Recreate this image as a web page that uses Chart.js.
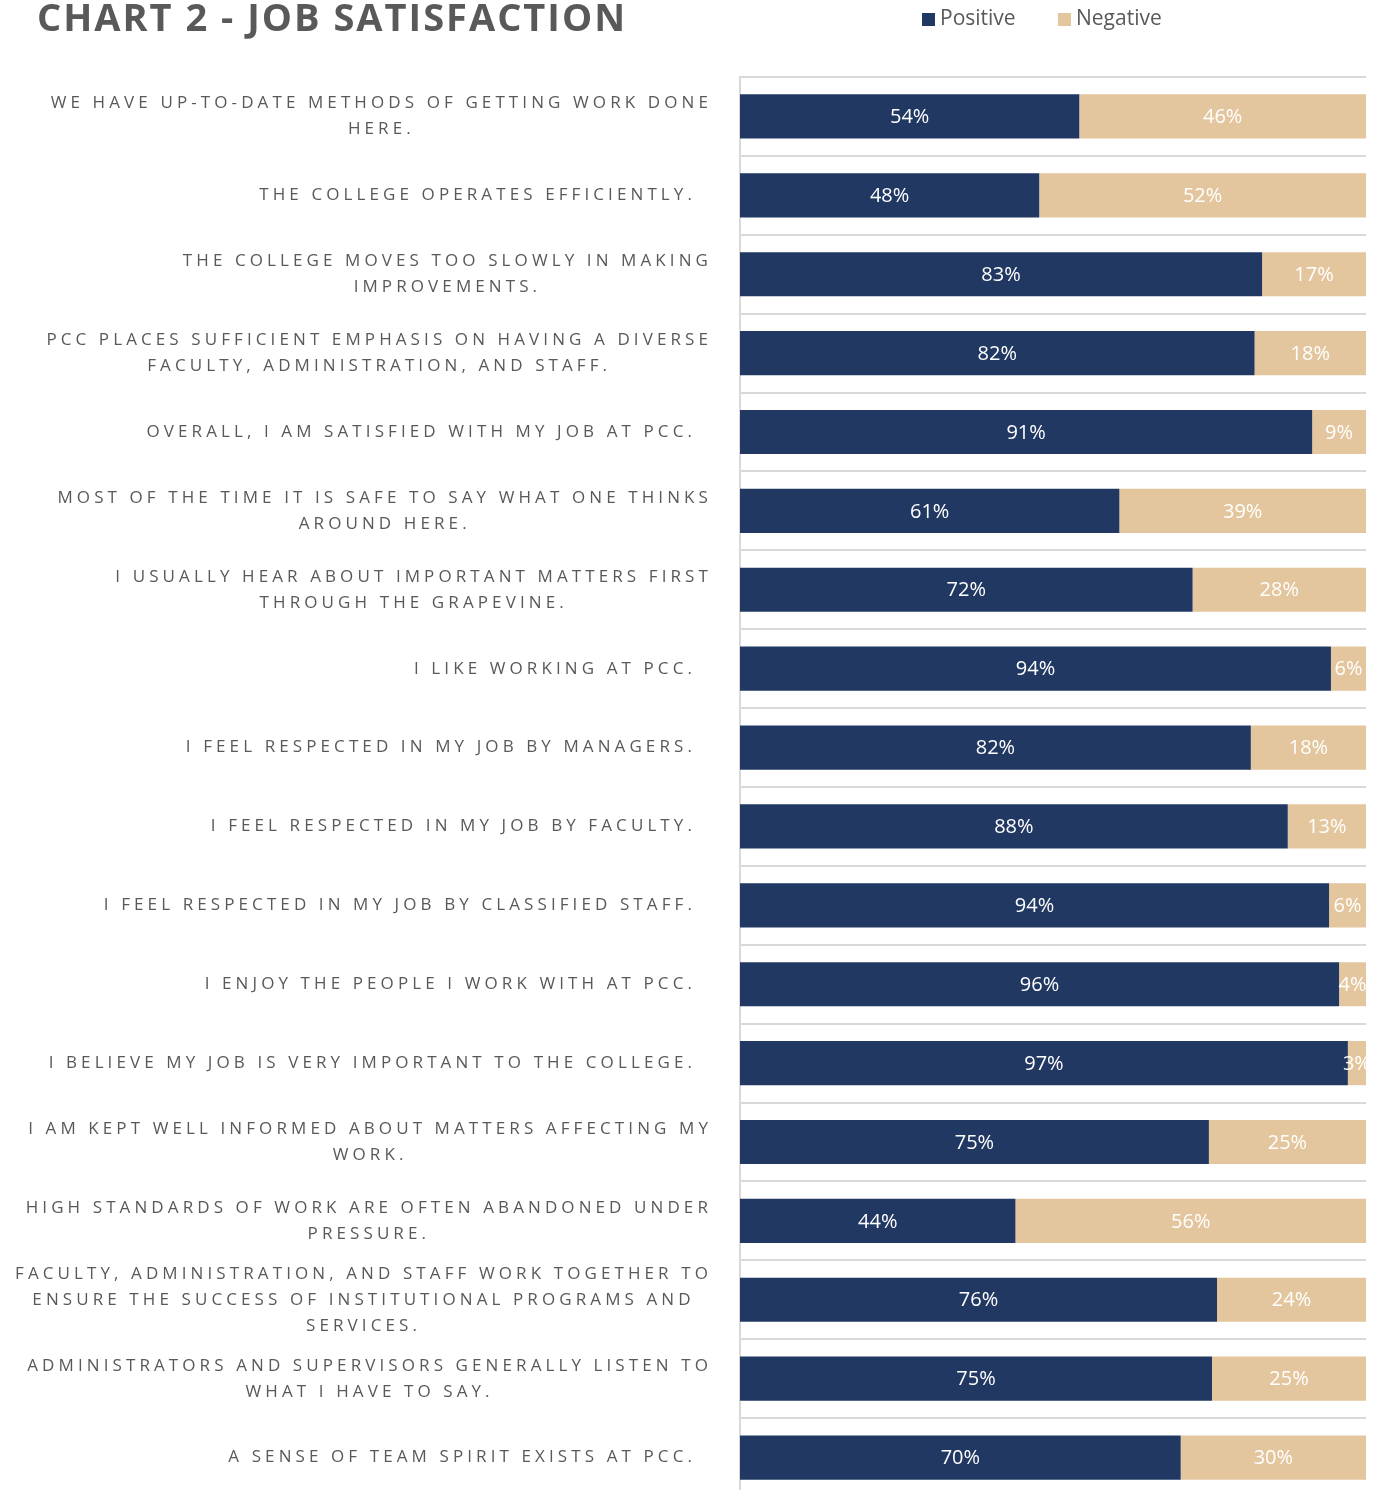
<!DOCTYPE html>
<html lang="en">
<head>
    <meta charset="UTF-8">
    <title>Chart 2 - Job Satisfaction</title>
    <script src="https://cdn.jsdelivr.net/npm/chart.js@4.4.1/dist/chart.umd.min.js"></script>
    <style>
        body { margin: 0; background: #ffffff; overflow: hidden; }
        #wrap { position: relative; width: 1374px; height: 1500px; }
    </style>
</head>
<body>
<div id="wrap">
    <canvas id="myChart"></canvas>
</div>
<script>
    var chartTitle = 'CHART 2 - JOB SATISFACTION';
    var seriesNames = ['Positive', 'Negative'];
    var statements = [
        ['WE HAVE UP-TO-DATE METHODS OF GETTING WORK DONE', 'HERE.'],
        ['THE COLLEGE OPERATES EFFICIENTLY.'],
        ['THE COLLEGE MOVES TOO SLOWLY IN MAKING', 'IMPROVEMENTS.'],
        ['PCC PLACES SUFFICIENT EMPHASIS ON HAVING A DIVERSE', 'FACULTY, ADMINISTRATION, AND STAFF.'],
        ['OVERALL, I AM SATISFIED WITH MY JOB AT PCC.'],
        ['MOST OF THE TIME IT IS SAFE TO SAY WHAT ONE THINKS', 'AROUND HERE.'],
        ['I USUALLY HEAR ABOUT IMPORTANT MATTERS FIRST', 'THROUGH THE GRAPEVINE.'],
        ['I LIKE WORKING AT PCC.'],
        ['I FEEL RESPECTED IN MY JOB BY MANAGERS.'],
        ['I FEEL RESPECTED IN MY JOB BY FACULTY.'],
        ['I FEEL RESPECTED IN MY JOB BY CLASSIFIED STAFF.'],
        ['I ENJOY THE PEOPLE I WORK WITH AT PCC.'],
        ['I BELIEVE MY JOB IS VERY IMPORTANT TO THE COLLEGE.'],
        ['I AM KEPT WELL INFORMED ABOUT MATTERS AFFECTING MY', 'WORK.'],
        ['HIGH STANDARDS OF WORK ARE OFTEN ABANDONED UNDER', 'PRESSURE.'],
        ['FACULTY, ADMINISTRATION, AND STAFF WORK TOGETHER TO', 'ENSURE THE SUCCESS OF INSTITUTIONAL PROGRAMS AND', 'SERVICES.'],
        ['ADMINISTRATORS AND SUPERVISORS GENERALLY LISTEN TO', 'WHAT I HAVE TO SAY.'],
        ['A SENSE OF TEAM SPIRIT EXISTS AT PCC.']
    ];
    var positive = [54.2, 47.8, 83.4, 82.2, 91.4, 60.6, 72.3, 94.4, 81.6, 87.5, 94.1, 95.7, 97.1, 74.9, 44, 76.2, 75.4, 70.4];
    var negative = [45.8, 52.2, 16.6, 17.8, 8.6, 39.4, 27.7, 5.6, 18.4, 12.5, 5.9, 4.3, 2.9, 25.1, 56, 23.8, 24.6, 29.6];

    var navy = '#213862';
    var tan = '#E3C69D';
    var grey = '#595959';

    // titre, legende, etiquettes des questions et valeurs dans les barres
    var decorPlugin = {
        id: 'decor',
        afterDraw: function (chart) {
            var ctx = chart.ctx;
            var area = chart.chartArea;
            var yScale = chart.scales.y;

            // titre
            ctx.save();
            ctx.fillStyle = grey;
            ctx.font = 'bold 38px "Open Sans"';
            ctx.letterSpacing = '2px';
            ctx.textBaseline = 'alphabetic';
            ctx.textAlign = 'left';
            ctx.fillText(chartTitle, 37, 31);
            ctx.restore();

            // legende
            ctx.save();
            ctx.font = '21px "Open Sans"';
            ctx.textBaseline = 'middle';
            ctx.textAlign = 'left';
            var lx = [922, 1058];
            [navy, tan].forEach(function (c, k) {
                ctx.fillStyle = c;
                ctx.fillRect(lx[k], 13, 13, 13);
                ctx.fillStyle = grey;
                ctx.fillText(seriesNames[k], lx[k] + 18, 19);
            });
            ctx.restore();

            // questions
            ctx.save();
            ctx.font = '17px "Open Sans"';
            ctx.letterSpacing = '4.1px';
            ctx.fillStyle = grey;
            ctx.textBaseline = 'middle';
            ctx.textAlign = 'center';
            statements.forEach(function (lines, i) {
                var yc = yScale.getPixelForValue(i);
                var widths = lines.map(function (l) { return ctx.measureText(l).width; });
                var w = Math.max.apply(null, widths);
                var right = lines.length > 1 ? 712 : 696;
                var cx = right - w / 2;
                var lh = 26;
                var y0 = yc - (lines.length - 1) * lh / 2;
                lines.forEach(function (l, j) {
                    ctx.fillText(l, cx, y0 + j * lh);
                });
            });
            ctx.restore();

            // valeurs
            ctx.save();
            ctx.beginPath();
            ctx.rect(area.left, area.top, area.right - area.left, area.bottom - area.top);
            ctx.clip();
            ctx.font = '20px "Open Sans"';
            ctx.fillStyle = '#ffffff';
            ctx.textAlign = 'center';
            ctx.textBaseline = 'middle';
            chart.data.datasets.forEach(function (ds, d) {
                var meta = chart.getDatasetMeta(d);
                meta.data.forEach(function (bar, i) {
                    var p = bar.getProps(['x', 'y', 'base'], true);
                    var cx = (p.x + p.base) / 2;
                    ctx.fillText(Math.round(ds.data[i]) + '%', cx, p.y + 1);
                });
            });
            ctx.restore();
        }
    };

    var ctx = document.getElementById('myChart').getContext('2d');
    var chart = new Chart(ctx, {
        type: 'bar',
        data: {
            labels: statements,
            datasets: [{
                label: seriesNames[0],
                data: positive,
                backgroundColor: navy,
                borderWidth: 0,
                barPercentage: 0.56,
                categoryPercentage: 1
            }, {
                label: seriesNames[1],
                data: negative,
                backgroundColor: tan,
                borderWidth: 0,
                barPercentage: 0.56,
                categoryPercentage: 1
            }]
        },
        options: {
            indexAxis: 'y',
            responsive: true,
            maintainAspectRatio: false,
            animation: false,
            layout: { padding: { left: 740, right: 8, top: 77, bottom: 3 } },
            plugins: {
                legend: { display: false },
                tooltip: { enabled: false }
            },
            scales: {
                x: {
                    stacked: true,
                    min: 0,
                    max: 100,
                    display: false
                },
                y: {
                    stacked: true,
                    ticks: { display: false },
                    grid: { color: '#d9d9d9', lineWidth: 2, drawTicks: false, offset: true },
                    border: { display: true, color: '#d9d9d9', width: 2 }
                }
            }
        },
        plugins: [decorPlugin]
    });
</script>
</body>
</html>
